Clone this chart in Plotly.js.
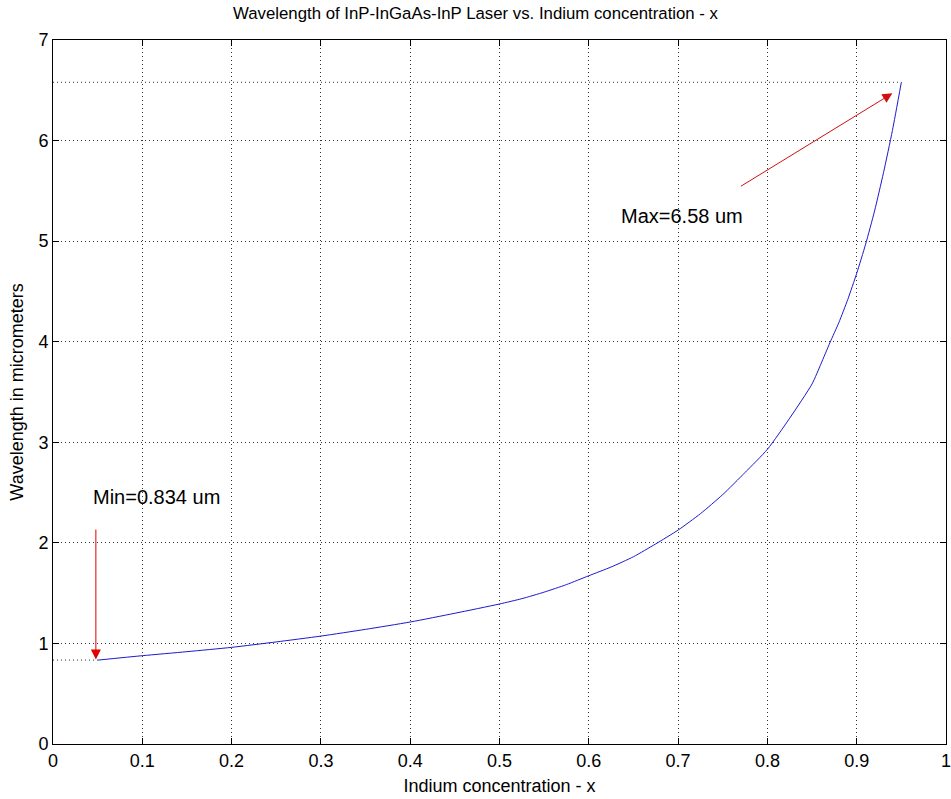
<!DOCTYPE html>
<html>
<head>
<meta charset="utf-8">
<script src="https://cdn.plot.ly/plotly-3.0.1.min.js"></script>
<style>html,body{margin:0;padding:0;background:#fff;}#chart{width:951px;height:799px;}</style>
</head>
<body>
<div id="chart"></div>
<script>
// Indium concentration x
var indiumX = [0.05, 0.1, 0.15, 0.2, 0.25, 0.3, 0.35, 0.4, 0.45, 0.5, 0.525, 0.55, 0.575, 0.6, 0.625, 0.65, 0.675, 0.7, 0.725, 0.75, 0.775, 0.8, 0.825, 0.85, 0.86, 0.87, 0.88, 0.89, 0.9, 0.91, 0.92, 0.93, 0.94, 0.95];
// Wavelength in micrometers
var wavelength = [0.834, 0.878, 0.918, 0.961, 1.015, 1.073, 1.14, 1.213, 1.30, 1.392, 1.445, 1.51, 1.585, 1.673, 1.76, 1.862, 1.99, 2.127, 2.29, 2.48, 2.7, 2.93, 3.24, 3.58, 3.78, 3.99, 4.19, 4.42, 4.68, 4.97, 5.3, 5.68, 6.1, 6.58];

var minVal = 0.834, maxVal = 6.58;
var minX = 0.05, maxX = 0.95;
var minRefX = [0, minX], minRefY = [minVal, minVal];
var maxRefX = [0, maxX], maxRefY = [maxVal, maxVal];

var xTickVals = [0, 0.1, 0.2, 0.3, 0.4, 0.5, 0.6, 0.7, 0.8, 0.9, 1];
var xTickText = ["0", "0.1", "0.2", "0.3", "0.4", "0.5", "0.6", "0.7", "0.8", "0.9", "1"];
var yTickVals = [0, 1, 2, 3, 4, 5, 6, 7];
var yTickText = ["0", "1", "2", "3", "4", "5", "6", "7"];

var minLabel = "Min=0.834 um";
var maxLabel = "Max=6.58 um";
var titleText = "Wavelength of InP-InGaAs-InP Laser vs. Indium concentration - x";
var xTitle = "Indium concentration - x";
var yTitle = "Wavelength in micrometers";

var FONT = "Liberation Sans, Arial, Helvetica, sans-serif";
var DOT = "1px,3px";

var traces = [
  {x: minRefX, y: minRefY, mode: 'lines', line: {color: '#333', width: 1, dash: DOT}, hoverinfo: 'skip', showlegend: false},
  {x: maxRefX, y: maxRefY, mode: 'lines', line: {color: '#333', width: 1, dash: DOT}, hoverinfo: 'skip', showlegend: false},
  {x: indiumX, y: wavelength, mode: 'lines', line: {color: '#1a1ad0', width: 1, shape: 'spline', smoothing: 0.6}, showlegend: false}
];

var axisCommon = {
  showline: true, linecolor: '#000', linewidth: 1, mirror: 'ticks',
  ticks: 'inside', ticklen: 6, tickwidth: 1, tickcolor: '#000',
  showgrid: true, gridcolor: '#333', griddash: DOT, gridwidth: 1,
  zeroline: false, tickmode: 'array', ticklabeloverflow: 'allow',
  tickfont: {family: FONT, size: 18, color: '#000'}
};

var layout = {
  width: 951, height: 799,
  margin: {l: 53, r: 5, t: 40, b: 55},
  paper_bgcolor: '#fff', plot_bgcolor: '#fff',
  font: {family: FONT, color: '#000'},
  title: {text: titleText, font: {family: FONT, size: 16.8, color: '#000'}, x: 0.5, xref: 'container', xanchor: 'center', y: 0.984, yref: 'container', yanchor: 'middle'},
  xaxis: Object.assign({}, axisCommon, {range: [0, 1], tickvals: xTickVals, ticktext: xTickText,
    title: {text: xTitle, font: {family: FONT, size: 18, color: '#000'}, standoff: 9}}),
  yaxis: Object.assign({}, axisCommon, {range: [0, 7], tickvals: yTickVals, ticktext: yTickText,
    title: {text: yTitle, font: {family: FONT, size: 18, color: '#000'}, standoff: 10}}),
  annotations: [
    {x: 0.116, y: 2.455, xref: 'x', yref: 'y', text: minLabel, showarrow: false,
     font: {family: FONT, size: 20, color: '#000'}},
    {x: 0.704, y: 5.25, xref: 'x', yref: 'y', text: maxLabel, showarrow: false,
     font: {family: FONT, size: 20, color: '#000'}},
    {x: 0.048, y: 0.84, ax: 0.048, ay: 2.147, xref: 'x', yref: 'y', axref: 'x', ayref: 'y',
     text: '', showarrow: true, arrowhead: 2, arrowsize: 2, arrowwidth: 1, arrowcolor: '#e00000', standoff: 0},
    {x: 0.940, y: 6.47, ax: 0.7687, ay: 5.537, xref: 'x', yref: 'y', axref: 'x', ayref: 'y',
     text: '', showarrow: true, arrowhead: 2, arrowsize: 2, arrowwidth: 1, arrowcolor: '#d01010', standoff: 0}
  ]
};

Plotly.newPlot('chart', traces, layout, {displayModeBar: false, staticPlot: true});
</script>
</body>
</html>
